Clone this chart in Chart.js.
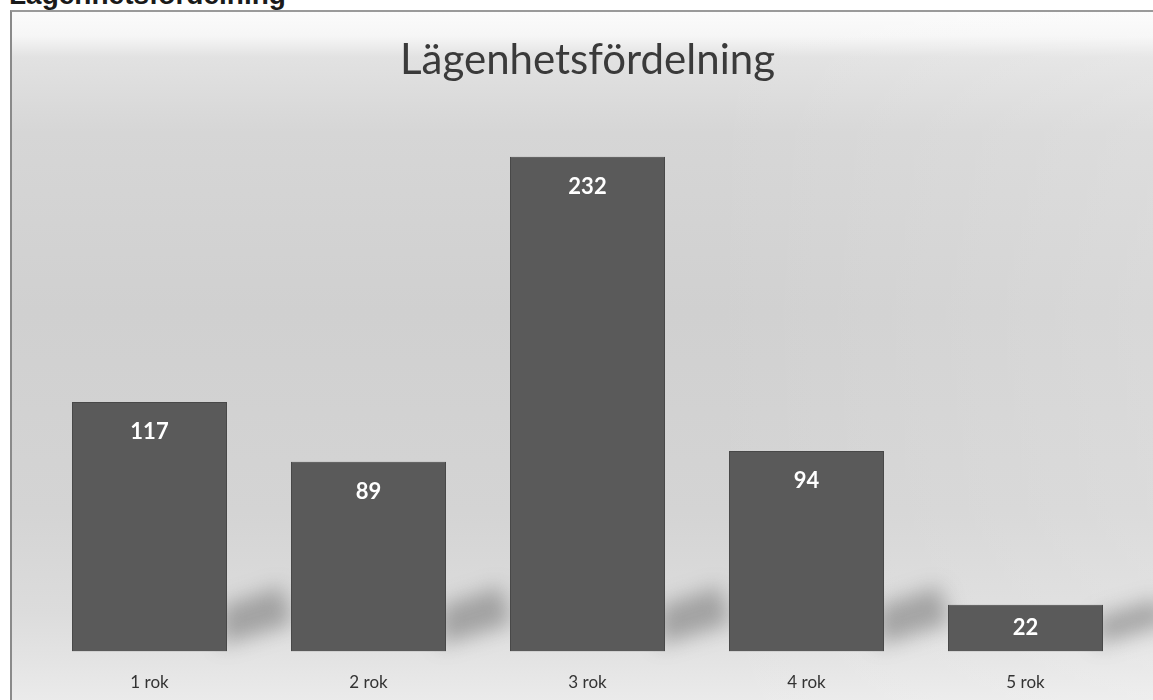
<!DOCTYPE html>
<html>
<head>
<meta charset="utf-8">
<script src="https://cdn.jsdelivr.net/npm/chart.js@4.4.0/dist/chart.umd.min.js"></script>
<style>
  html, body { margin: 0; padding: 0; background: #ffffff; width: 1153px; height: 700px; overflow: hidden; }
  #heading { position: absolute; left: 9px; top: -21px; font: bold 28px "Liberation Sans", Arial, sans-serif; color: #1a1a1a; white-space: nowrap; }
  #frame { position: absolute; left: 10px; top: 10px; width: 1150px; height: 700px;
    border-left: 2px solid #8a8a8a; border-top: 2px solid #9a9a9a;
    background:
      linear-gradient(to right, rgba(255,255,255,0) 0%, rgba(255,255,255,0) 60%, rgba(255,255,255,0.18) 100%),
      linear-gradient(to bottom, #fbfbfb 0px, #f6f6f6 24px, #e2e2e2 45px, #d6d6d6 120px, #d0d0d0 300px, #d4d4d4 500px, #dcdcdc 600px, #e4e4e4 650px, #ebebeb 690px); }
  #wrap { position: absolute; left: 0; top: 0; width: 1153px; height: 722px; }
</style>
</head>
<body>
<div id="heading">Lägenhetsfördelning</div>
<div id="frame"></div>
<div id="wrap"><canvas id="c" width="1153" height="722"></canvas></div>
<script>
const chartTitle = "Lägenhetsfördelning";
const categories = ["1 rok", "2 rok", "3 rok", "4 rok", "5 rok"];
const counts = [117, 89, 232, 94, 22];
const yMin = 0;
const yMax = 250;

const shadowPlugin = {
  id: 'barShadows',
  beforeDatasetsDraw(chart) {
    const ctx = chart.ctx;
    const meta = chart.getDatasetMeta(0);
    ctx.save();
    meta.data.forEach((bar) => {
      const half = bar.width / 2;
      const right = bar.x + half;
      const base = bar.base;
      const h = Math.min(base - bar.y, 60);
      ctx.filter = 'blur(10px)';
      ctx.fillStyle = 'rgba(80,80,80,0.42)';
      ctx.beginPath();
      ctx.moveTo(right - 6, base - 6);
      ctx.lineTo(right - 6, base - h * 0.75);
      ctx.lineTo(right + 55, base - h * 0.95 - 8);
      ctx.lineTo(right + 66, base - 28);
      ctx.closePath();
      ctx.fill();
    });
    ctx.restore();
  }
};

const labelPlugin = {
  id: 'insideEndLabels',
  afterDatasetsDraw(chart) {
    const ctx = chart.ctx;
    const meta = chart.getDatasetMeta(0);
    const ds = chart.data.datasets[0];
    ctx.save();
    ctx.fillStyle = '#ffffff';
    ctx.font = 'bold 22px Lato, "Open Sans", sans-serif';
    ctx.textAlign = 'center';
    ctx.textBaseline = 'middle';
    meta.data.forEach((bar, i) => {
      const y = Math.min(bar.y + 30, (bar.y + bar.base) / 2);
      ctx.fillText(String(ds.data[i]), bar.x, y);
    });
    ctx.restore();
  }
};

new Chart(document.getElementById('c'), {
  type: 'bar',
  data: {
    labels: categories,
    datasets: [{
      data: counts,
      backgroundColor: '#5a5a5a',
      borderColor: '#484848',
      borderWidth: 1,
      categoryPercentage: 1.0,
      barPercentage: 0.708
    }]
  },
  options: {
    responsive: false,
    animation: false,
    layout: { padding: { left: 40, right: 18, top: 0, bottom: 8 } },
    plugins: {
      legend: { display: false },
      tooltip: { enabled: false },
      title: {
        display: true,
        text: chartTitle,
        color: '#3a3a3a',
        font: { family: 'Lato, "Open Sans", sans-serif', size: 42, weight: 'normal' },
        padding: { top: 35, bottom: 33 }
      }
    },
    scales: {
      x: {
        grid: { display: false, drawTicks: false },
        border: { display: false },
        ticks: { color: '#333333', font: { family: 'Lato, "Open Sans", sans-serif', size: 17 }, padding: 21 }
      },
      y: { display: false, min: yMin, max: yMax }
    }
  },
  plugins: [shadowPlugin, labelPlugin]
});
</script>
</body>
</html>
